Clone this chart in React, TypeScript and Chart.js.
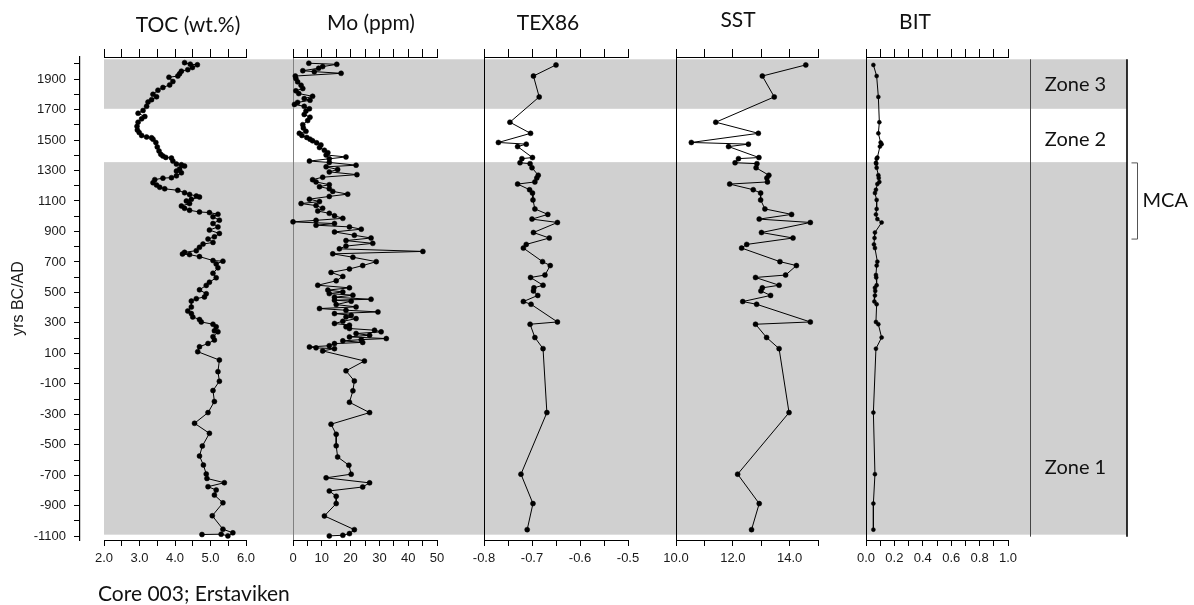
import { useEffect, useRef } from 'react';
import { Chart, registerables } from 'chart.js';

Chart.register(...registerables);

// ---------------- DATA ----------------
const tocYears = [2008, 1998, 1994, 1976, 1962, 1952, 1935, 1920, 1912, 1884,
  1862, 1845, 1827, 1800, 1784, 1765, 1749, 1721, 1694, 1676,
  1654, 1639, 1617, 1590, 1566, 1550, 1530, 1520, 1515, 1506,
  1484, 1455, 1428, 1406, 1395, 1386, 1382, 1362, 1342, 1338,
  1329, 1310, 1296, 1285, 1265, 1253, 1250, 1240, 1220, 1205,
  1190, 1180, 1170, 1154, 1143, 1133, 1126, 1111, 1100, 1083,
  1067, 1052, 1039, 1028, 1024, 1013, 996, 974, 952, 930,
  909, 887, 865, 850, 828, 817, 796, 774, 763, 752,
  748, 735, 709, 705, 687, 661, 626, 596, 567, 546,
  517, 491, 470, 459, 443, 404, 378, 361, 339, 322,
  306, 291, 274, 248, 241, 209, 187, 165, 143, 111,
  56, -20, -83, -144, -216, -289, -359, -425, -508, -574,
  -633, -692, -721, -749, -775, -797, -830, -881, -966, -1054,
  -1078, -1098, -1087, -1089];
const tocValues = [4.27, 4.43, 4.63, 4.49, 4.36, 4.18, 4.13, 4.08, 3.83, 3.94,
  3.85, 3.66, 3.52, 3.38, 3.48, 3.34, 3.24, 3.20, 3.10, 2.96,
  3.15, 3.06, 2.96, 2.93, 2.94, 2.99, 3.06, 3.20, 3.34, 3.38,
  3.46, 3.50, 3.55, 3.60, 3.66, 3.74, 3.90, 3.94, 4.04, 4.18,
  4.27, 4.13, 4.04, 4.18, 4.04, 3.90, 3.66, 3.43, 3.38, 3.48,
  3.57, 3.71, 4.08, 4.27, 4.41, 4.60, 4.69, 4.46, 4.32, 4.41,
  4.18, 4.27, 4.41, 4.69, 4.97, 5.21, 5.07, 5.25, 5.07, 5.21,
  4.97, 5.25, 5.11, 4.93, 5.07, 4.79, 4.69, 4.60, 4.27, 4.21,
  4.41, 4.69, 5.07, 5.35, 5.16, 5.21, 5.07, 5.16, 4.97, 4.88,
  4.69, 4.88, 4.83, 4.60, 4.46, 4.46, 4.36, 4.46, 4.50, 4.69,
  4.74, 5.07, 5.16, 5.11, 5.21, 5.07, 5.11, 4.93, 4.69, 4.64,
  5.25, 5.21, 5.25, 5.07, 5.11, 4.93, 4.55, 4.97, 4.77, 4.69,
  4.80, 4.88, 4.90, 5.39, 4.93, 5.16, 5.11, 5.35, 5.05, 5.35,
  5.63, 5.49, 5.30, 4.76];

const moYears = [2004, 1997, 1982, 1971, 1955, 1949, 1938, 1920, 1904, 1882,
  1860, 1838, 1823, 1805, 1787, 1772, 1761, 1747, 1734, 1721,
  1705, 1690, 1668, 1650, 1628, 1601, 1579, 1557, 1544, 1530,
  1517, 1506, 1495, 1482, 1468, 1451, 1433, 1417, 1402, 1389,
  1377, 1362, 1353, 1335, 1324, 1307, 1291, 1273, 1256, 1240,
  1225, 1207, 1194, 1180, 1163, 1145, 1130, 1112, 1096, 1083,
  1070, 1052, 1034, 1019, 1003, 986, 973, 963, 952, 941,
  930, 915, 897, 875, 857, 840, 822, 804, 786, 769,
  753, 731, 702, 676, 654, 631, 605, 576, 547, 530,
  515, 503, 492, 482, 468, 455, 449, 442, 420, 405,
  394, 383, 372, 361, 350, 339, 328, 310, 296, 285,
  274, 263, 252, 241, 230, 219, 208, 197, 190, 182,
  172, 164, 150, 142, 136, 131, 116, 50, -15, -81,
  -146, -221, -289, -365, -431, -507, -580, -634, -693, -717,
  -750, -777, -803, -838, -886, -967, -1057, -1083, -1094, -1098];
const moValues = [5.5, 15.2, 10.3, 8.9, 3.4, 7.4, 16.7, 0.8, 1.0, 1.6,
  2.8, 3.4, 1.0, 2.0, 6.8, 3.9, 5.9, 1.6, 0.5, 3.9,
  5.7, 4.5, 3.9, 5.9, 5.1, 3.4, 3.6, 4.5, 2.2, 3.1,
  4.8, 5.9, 6.8, 8.2, 9.7, 9.2, 10.9, 12.1, 11.5, 18.4,
  12.6, 5.7, 12.6, 21.9, 11.5, 15.5, 12.6, 22.2, 10.3, 6.8,
  8.0, 12.6, 9.2, 12.6, 13.8, 19.0, 12.6, 5.7, 9.2, 2.8,
  8.0, 10.3, 8.6, 12.6, 14.4, 17.3, 8.0, 0.0, 14.4, 8.0,
  19.6, 23.7, 14.4, 21.3, 27.1, 18.4, 27.7, 18.4, 16.1, 45.1,
  13.8, 20.8, 28.9, 24.2, 19.6, 13.2, 17.3, 15.0, 8.6, 19.6,
  12.1, 17.3, 12.6, 20.8, 14.4, 27.1, 14.4, 20.2, 15.0, 21.9,
  9.2, 18.4, 29.5, 14.4, 20.2, 18.4, 21.9, 17.3, 14.4, 19.6,
  18.4, 19.6, 28.3, 30.6, 21.9, 26.6, 19.6, 32.4, 23.7, 17.3,
  24.2, 14.4, 12.6, 5.7, 8.0, 14.4, 10.3, 24.8, 18.4, 21.3,
  20.8, 19.6, 26.6, 13.2, 15.0, 15.0, 15.5, 19.4, 20.2, 11.5,
  26.6, 24.2, 12.6, 15.0, 15.0, 10.9, 21.3, 19.6, 17.3, 12.6];

const gdgtYears = [1993, 1920, 1783, 1617, 1544, 1484, 1473, 1457, 1385, 1378,
  1351, 1345, 1318, 1269, 1251, 1225, 1211, 1174, 1152, 1107,
  1048, 1012, 981, 959, 893, 857, 815, 791, 702, 676,
  614, 598, 547, 530, 510, 480, 440, 422, 306, 291,
  204, 131, -289, -693, -886, -1057];
const tex86Values = [-0.650, -0.697, -0.685, -0.746, -0.703, -0.770, -0.712, -0.730, -0.699, -0.721,
  -0.725, -0.704, -0.700, -0.687, -0.690, -0.694, -0.730, -0.705, -0.699, -0.698,
  -0.694, -0.667, -0.700, -0.647, -0.697, -0.664, -0.712, -0.718, -0.678, -0.662,
  -0.673, -0.703, -0.677, -0.696, -0.697, -0.688, -0.718, -0.702, -0.647, -0.704,
  -0.694, -0.677, -0.669, -0.723, -0.698, -0.710];
const sstValues = [14.57, 13.04, 13.46, 11.40, 12.90, 10.54, 12.55, 11.85, 12.92, 12.20,
  12.08, 12.85, 12.82, 13.27, 13.20, 13.22, 11.89, 12.72, 12.98, 12.98,
  13.13, 14.07, 12.93, 14.73, 13.01, 14.12, 12.49, 12.31, 13.66, 14.24,
  13.86, 12.80, 13.63, 13.04, 12.99, 13.33, 12.35, 12.84, 14.73, 12.80,
  13.19, 13.63, 13.98, 12.17, 12.93, 12.66];
const bitValues = [0.052, 0.075, 0.087, 0.094, 0.087, 0.103, 0.110, 0.098, 0.080, 0.075,
  0.070, 0.072, 0.075, 0.087, 0.090, 0.094, 0.080, 0.070, 0.063, 0.075,
  0.075, 0.070, 0.080, 0.110, 0.063, 0.060, 0.056, 0.063, 0.080, 0.075,
  0.070, 0.072, 0.075, 0.063, 0.065, 0.063, 0.059, 0.075, 0.070, 0.087,
  0.110, 0.070, 0.052, 0.063, 0.052, 0.052];

// tick positions and labelled (major) ticks
const tocTicks = [2, 2.5, 3, 3.5, 4, 4.5, 5, 5.5, 6];
const tocMajor = [2, 3, 4, 5, 6];
const moTicks = [0, 5, 10, 15, 20, 25, 30, 35, 40, 45, 50];
const moMajor = [0, 10, 20, 30, 40, 50];
const texTicks = [-0.8, -0.75, -0.7, -0.65, -0.6, -0.55, -0.5];
const texMajor = [-0.8, -0.7, -0.6, -0.5];
const sstTicks = [10, 11, 12, 13, 14, 15];
const sstMajor = [10, 12, 14];
const bitTicks = [0, 0.1, 0.2, 0.3, 0.4, 0.5, 0.6, 0.7, 0.8, 0.9, 1];
const bitMajor = [0, 0.2, 0.4, 0.6, 0.8, 1];

const yearMin = -1125;
const yearMax = 2045;
const shadedZones = [[2030, 1705], [1355, -1090]];
const zoneLabels = ['Zone 3', 'Zone 2', 'Zone 1'];
const zoneLabelYears = [1862, 1500, -650];
const mcaRange = [1350, 850];

// ---------------- LAYOUT / STYLE ----------------
const FONT_TICK = "'Liberation Sans', Arial, sans-serif";
const FONT_TEXT = "Lato, 'Open Sans', sans-serif";
const TOP_H = 57;
const BOTTOM_H = 65;

type Panel = {
  title: string; min: number; max: number; ticks: number[]; major: number[];
  digits: number; edge: string | null; titleDx: number; titleBase: number;
};

const panels: Record<string, Panel> = {
  TOC: { title: 'TOC (wt.%)', min: 2, max: 6, ticks: tocTicks, major: tocMajor, digits: 1, edge: null, titleDx: 13, titleBase: 31.5 },
  Mo: { title: 'Mo (ppm)', min: 0, max: 50, ticks: moTicks, major: moMajor, digits: 0, edge: '#808080', titleDx: 6, titleBase: 30 },
  TEX: { title: 'TEX86', min: -0.8, max: -0.5, ticks: texTicks, major: texMajor, digits: 1, edge: '#000', titleDx: -8, titleBase: 30 },
  SST: { title: 'SST', min: 10, max: 15, ticks: sstTicks, major: sstMajor, digits: 1, edge: '#000', titleDx: -9, titleBase: 27 },
  BIT: { title: 'BIT', min: 0, max: 1, ticks: bitTicks, major: bitMajor, digits: 1, edge: '#000', titleDx: -22, titleBase: 28.5 },
};

const columns: [string, number][] = [
  ['pad0', 24], ['TOC', 142], ['gap1', 47], ['Mo', 144], ['gap2', 47], ['TEX', 144],
  ['gap3', 48], ['SST', 142], ['gap4', 48], ['BIT', 142], ['gap5', 22], ['zone', 97],
];

function spacerScale(side: string, w: number) {
  return {
    type: 'linear', axis: 'x', position: side, stack: 'row', stackWeight: w, min: 0, max: 1,
    afterFit: (s: any) => { s.height = side === 'bottom' ? BOTTOM_H : TOP_H; },
    grid: { display: false }, border: { display: false }, ticks: { display: false },
  };
}

function panelScale(p: Panel, side: string, w: number) {
  const bottom = side === 'bottom';
  return {
    type: 'linear', axis: 'x', position: side, stack: 'row', stackWeight: w,
    min: p.min, max: p.max,
    afterBuildTicks: (s: any) => { s.ticks = p.ticks.map((v) => ({ value: v })); },
    afterFit: (s: any) => { s.height = bottom ? BOTTOM_H : TOP_H; },
    grid: {
      display: true,
      drawOnChartArea: bottom && !!p.edge,
      drawTicks: true,
      tickLength: bottom ? 6 : 8,
      tickColor: '#000',
      tickWidth: 1,
      lineWidth: 1,
      color: (c: any) => (c.index === 0 && p.edge ? p.edge : 'rgba(0,0,0,0)'),
    },
    border: { display: true, color: '#000', width: 1 },
    ticks: {
      display: bottom, autoSkip: false, maxRotation: 0, minRotation: 0, padding: 5,
      color: '#1a1a1a', font: { family: FONT_TICK, size: 13 },
      callback: (v: number) => (p.major.includes(v) ? v.toFixed(p.digits) : ''),
    },
  };
}

function buildScales() {
  const scales: any = {
    y: {
      type: 'linear', axis: 'y', position: 'left', min: yearMin, max: yearMax,
      afterFit: (s: any) => { s.width = 72; },
      grid: { drawOnChartArea: false, drawTicks: true, tickLength: 6, tickColor: '#000' },
      border: { display: true, color: '#000', width: 1.2 },
      ticks: {
        stepSize: 100, includeBounds: false, autoSkip: false, padding: 8,
        color: '#1a1a1a', font: { family: FONT_TICK, size: 13 },
        callback: (v: number) => (Math.round(v / 100) % 2 !== 0 ? String(v) : ''),
      },
      title: {
        display: true, text: 'yrs BC/AD', color: '#1a1a1a',
        font: { family: FONT_TICK, size: 16 }, padding: { top: 1, bottom: 3 },
      },
    },
  };
  // bottom stack is laid out left-to-right in definition order
  for (const [key, w] of columns) {
    const p = panels[key];
    scales['b' + key] = p ? panelScale(p, 'bottom', w) : spacerScale('bottom', w);
  }
  // top stack is laid out in reverse definition order, so add it reversed
  for (const [key, w] of [...columns].reverse()) {
    const p = panels[key];
    scales['t' + key] = p ? panelScale(p, 'top', w) : spacerScale('top', w);
  }
  return scales;
}

function series(xs: number[], ys: number[], xAxisID: string, radius: number) {
  return {
    data: ys.map((yr, i) => ({ x: xs[i], y: yr })),
    xAxisID, yAxisID: 'y', showLine: true,
    borderColor: '#000', borderWidth: 1,
    pointRadius: radius, pointBackgroundColor: '#000', pointBorderColor: '#000', pointBorderWidth: 0.5,
    clip: false,
  };
}

const bandPlugin = {
  id: 'zoneBands',
  beforeDraw(chart: any) {
    const { ctx, scales } = chart;
    const y = scales.y;
    const left = scales.bTOC.left;
    const right = scales.bzone.right;
    ctx.save();
    ctx.fillStyle = '#d0d0d0';
    for (const [a, b] of shadedZones) {
      const y1 = y.getPixelForValue(a);
      const y2 = y.getPixelForValue(b);
      ctx.fillRect(left, y1, right - left, y2 - y1);
    }
    ctx.restore();
  },
};

const annotationPlugin = {
  id: 'annotations',
  afterDraw(chart: any) {
    const { ctx, scales } = chart;
    const y = scales.y;
    ctx.save();
    ctx.fillStyle = '#111';
    // panel titles
    ctx.font = `21px ${FONT_TEXT}`;
    ctx.textAlign = 'center';
    ctx.textBaseline = 'alphabetic';
    for (const key of Object.keys(panels)) {
      const p = panels[key];
      const s = scales['b' + key];
      ctx.fillText(p.title, (s.left + s.right) / 2 + p.titleDx, p.titleBase);
    }
    // zone column
    const z = scales.bzone;
    const yt = y.getPixelForValue(shadedZones[0][0]);
    const yb = y.getPixelForValue(shadedZones[1][1]) + 2;
    ctx.lineWidth = 1;
    ctx.strokeStyle = '#444';
    ctx.beginPath(); ctx.moveTo(z.left + 0.5, yt); ctx.lineTo(z.left + 0.5, yb); ctx.stroke();
    ctx.lineWidth = 1.6;
    ctx.strokeStyle = '#000';
    ctx.beginPath(); ctx.moveTo(z.right, yt); ctx.lineTo(z.right, yb); ctx.stroke();
    ctx.font = `20px ${FONT_TEXT}`;
    ctx.textBaseline = 'middle';
    zoneLabels.forEach((t, i) => {
      ctx.fillText(t, (z.left + z.right) / 2 - 3, y.getPixelForValue(zoneLabelYears[i]));
    });
    // MCA bracket
    const m1 = y.getPixelForValue(mcaRange[0]);
    const m2 = y.getPixelForValue(mcaRange[1]);
    const bx = z.right + 10.5;
    ctx.strokeStyle = '#555';
    ctx.lineWidth = 1;
    ctx.beginPath();
    ctx.moveTo(bx - 6, m1); ctx.lineTo(bx, m1); ctx.lineTo(bx, m2); ctx.lineTo(bx - 6, m2);
    ctx.stroke();
    ctx.font = `20px ${FONT_TEXT}`;
    ctx.textAlign = 'left';
    ctx.fillText('MCA', bx + 5, y.getPixelForValue((mcaRange[0] + mcaRange[1]) / 2));
    // caption
    ctx.font = `21px ${FONT_TEXT}`;
    ctx.textBaseline = 'alphabetic';
    ctx.fillText('Core 003; Erstaviken', scales.bTOC.left - 6, chart.height - 4);
    ctx.restore();
  },
};

export default function App() {
  const ref = useRef<HTMLCanvasElement | null>(null);
  useEffect(() => {
    if (!ref.current) return;
    const chart = new Chart(ref.current, {
      type: 'scatter',
      data: {
        datasets: [
          series(tocValues, tocYears, 'bTOC', 2.5),
          series(moValues, moYears, 'bMo', 2.5),
          series(tex86Values, gdgtYears, 'bTEX', 2.5),
          series(sstValues, gdgtYears, 'bSST', 2.5),
          series(bitValues, gdgtYears, 'bBIT', 2),
        ] as any,
      },
      options: {
        animation: false,
        responsive: false,
        maintainAspectRatio: false,
        events: [],
        layout: { padding: { left: 8, right: 67, top: 0, bottom: 0 } },
        plugins: { legend: { display: false }, tooltip: { enabled: false } },
        scales: buildScales(),
      } as any,
      plugins: [bandPlugin, annotationPlugin],
    });
    return () => chart.destroy();
  }, []);
  return (
    <div style={{ position: 'fixed', left: 0, top: 0, width: 1194, height: 605, background: '#fff' }}>
      <canvas ref={ref} width={1194} height={605} style={{ display: 'block', width: 1194, height: 605 }} />
    </div>
  );
}
